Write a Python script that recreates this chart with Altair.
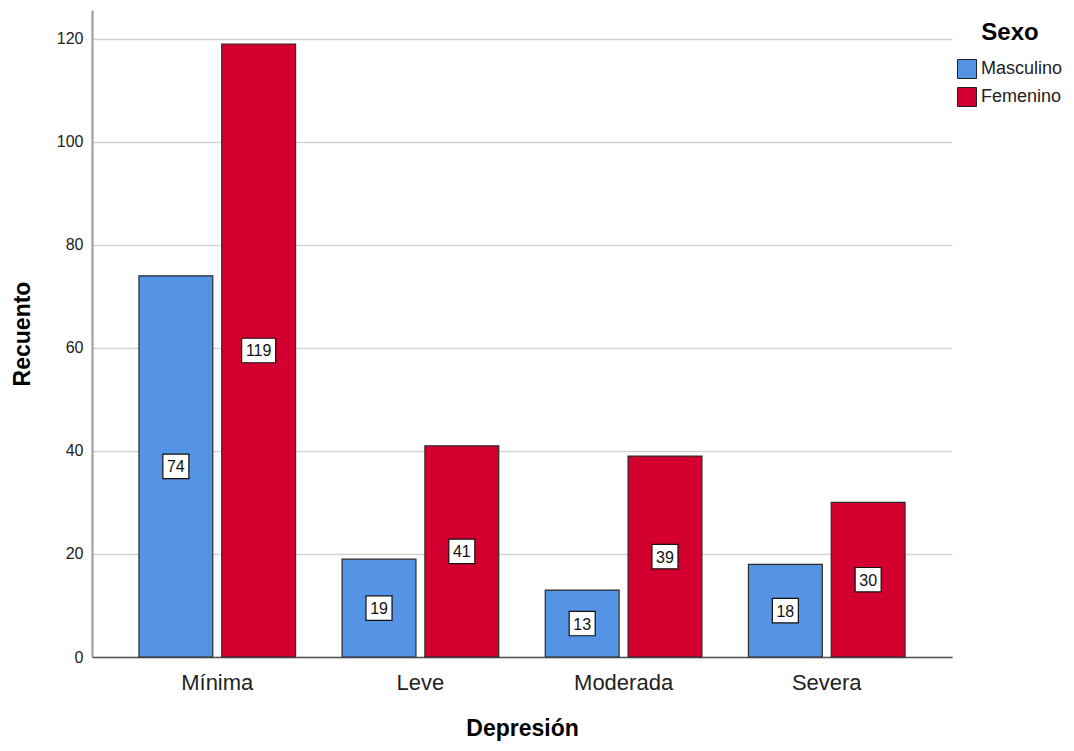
import altair as alt
import pandas as pd

categories = ["Mínima", "Leve", "Moderada", "Severa"]
sexos = ["Masculino", "Femenino"]
masculino = [74, 19, 13, 18]
femenino = [119, 41, 39, 30]
colors = ["#5593E4", "#D3002F"]
y_ticks = [0, 20, 40, 60, 80, 100, 120]

rows = []
for i, c in enumerate(categories):
    rows.append({"Depresión": c, "Sexo": "Masculino", "Recuento": masculino[i]})
    rows.append({"Depresión": c, "Sexo": "Femenino", "Recuento": femenino[i]})
df = pd.DataFrame(rows)
df["mid"] = df["Recuento"] / 2
df["digits"] = df["Recuento"].astype(str).str.len().astype(str)

FONT = "Liberation Sans Narrow, Liberation Sans, Arial"
FONT_R = "Liberation Sans, Arial"

x_enc = alt.X(
    "Depresión:N",
    sort=categories,
    scale=alt.Scale(paddingInner=0.229, paddingOuter=0.231),
    axis=alt.Axis(
        title="Depresión",
        labelAngle=0,
        ticks=False,
        labelPadding=15,
        labelFontSize=22,
        labelFont=FONT_R,
        labelColor="#222222",
        titleFontSize=23,
        titleFont=FONT_R,
        titleFontWeight="bold",
        titleColor="#000000",
        titlePadding=24,
        domainColor="#555555",
        domainWidth=1.5,
        grid=False,
    ),
)
xoff = alt.XOffset("Sexo:N", sort=sexos, scale=alt.Scale(paddingInner=0.108, paddingOuter=0))

y_scale = alt.Scale(domain=[0, 125.6], nice=False)

bars = alt.Chart(df).mark_bar(stroke="#2b2b2b", strokeWidth=1.2, opacity=1).encode(
    x=x_enc,
    xOffset=xoff,
    y=alt.Y(
        "Recuento:Q",
        scale=y_scale,
        axis=alt.Axis(
            title="Recuento",
            values=y_ticks,
            ticks=False,
            labelPadding=9,
            labelFontSize=16,
            labelFont=FONT_R,
            labelColor="#222222",
            titleFontSize=23,
            titleFont=FONT_R,
            titleFontWeight="bold",
            titleColor="#000000",
            titlePadding=22,
            domainColor="#999999",
            domainWidth=2,
            gridColor="#d3d3d3",
            gridWidth=1.5,
        ),
    ),
    color=alt.Color(
        "Sexo:N",
        sort=sexos,
        scale=alt.Scale(domain=sexos, range=colors),
        legend=alt.Legend(
            title="Sexo",
            orient="none",
            legendX=865,
            legendY=11,
            titleFontSize=24,
            titleFont=FONT_R,
            titleFontWeight="bold",
            titleColor="#000000",
            titleAnchor="middle",
            titlePadding=14,
            labelFontSize=18,
            labelFont=FONT,
            labelColor="#222222",
            symbolType="square",
            symbolSize=361,
            symbolStrokeColor="#222222",
            symbolStrokeWidth=1,
            symbolOpacity=1,
            labelOffset=4,
            rowPadding=4,
        ),
    ),
)

path2 = "M-0.765,-0.72H0.765V0.72H-0.765Z"
path3 = "M-1,-0.72H1V0.72H-1Z"

boxes = alt.Chart(df).mark_point(
    filled=True, fill="white", stroke="#111111", strokeWidth=1.2, opacity=1, size=34 * 34
).encode(
    x=alt.X("Depresión:N", sort=categories),
    xOffset=alt.XOffset("Sexo:N", sort=sexos),
    y=alt.Y("mid:Q", scale=y_scale),
    shape=alt.Shape("digits:N", scale=alt.Scale(domain=["2", "3"], range=[path2, path3]), legend=None),
)

labels = alt.Chart(df).mark_text(
    font=FONT, fontSize=16, color="#111111", baseline="middle", align="center", dy=1
).encode(
    x=alt.X("Depresión:N", sort=categories),
    xOffset=alt.XOffset("Sexo:N", sort=sexos),
    y=alt.Y("mid:Q", scale=y_scale),
    text=alt.Text("Recuento:Q"),
)

chart = (
    alt.layer(bars, boxes, labels)
    .properties(
        width=860,
        height=647,
        autosize=alt.AutoSizeParams(type="none"),
        padding={"left": 84, "top": 2, "right": 112, "bottom": 86},
        background="white",
    )
    .configure_view(stroke=None)
)

chart.save("out.html", embed_options={"renderer": "svg", "actions": False})
